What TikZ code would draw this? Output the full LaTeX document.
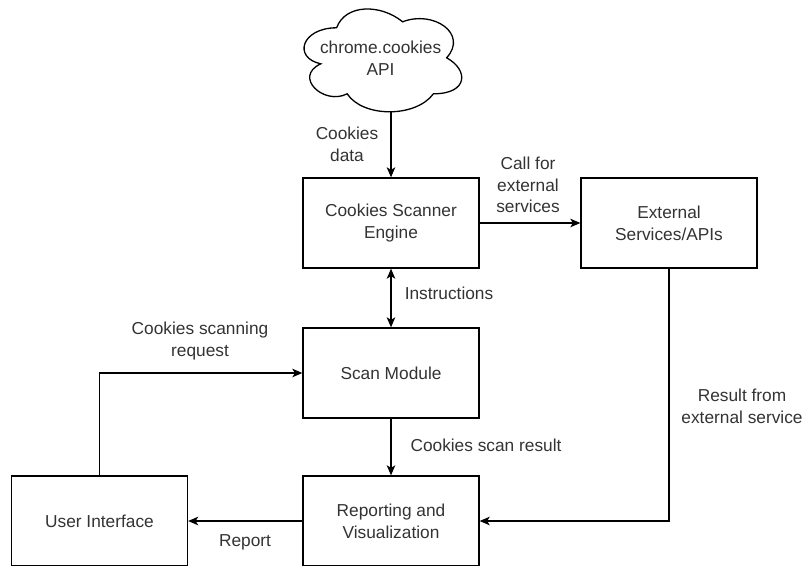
\documentclass[tikz,border=0pt]{standalone}
\usepackage{fontspec}
\setmainfont{Liberation Sans}
\usetikzlibrary{arrows.meta}
\definecolor{ink}{HTML}{333333}
\begin{document}
\begin{tikzpicture}[x=1pt,y=-1pt,
  txt/.style={font=\fontsize{17.3}{21.7}\selectfont, text=ink, align=center},
  box/.style={txt, draw=black, line width=1.3pt, minimum width=176pt,
              minimum height=90pt, inner sep=0pt},
  lbl/.style={txt, inner sep=0pt},
  tip/.tip={Stealth[length=10pt,width=8.5pt,inset=2.5pt]},
  conn/.style={line width=1.3pt, -tip}]
\useasboundingbox (0,0) rectangle (802,565);

% cloud outline for the cookies API
\begin{scope}[shift={(292.6,-2.2)}, x=176pt, y=-120pt]
  \draw[line width=1.3pt, fill=white]
    (0.25,0.25) .. controls (0.05,0.25) and (0,0.5) .. (0.16,0.55)
    .. controls (0,0.66) and (0.18,0.9) .. (0.31,0.8)
    .. controls (0.4,1) and (0.7,1) .. (0.8,0.8)
    .. controls (1,0.8) and (1,0.6) .. (0.875,0.5)
    .. controls (1,0.3) and (0.8,0.1) .. (0.625,0.2)
    .. controls (0.5,0.05) and (0.3,0.05) .. (0.25,0.25) -- cycle;
\end{scope}
\node[lbl] (api) at (380.6,58) {chrome.cookies\\API};
\coordinate (apibot) at (391,112);

% components
\node[box] (eng)  at (391,223)  {Cookies Scanner\\Engine};
\node[box] (ext)  at (669,223)  {External\\Services/APIs};
\node[box] (scan) at (391,373)  {Scan Module};
\node[box] (rep)  at (391,521)  {Reporting and\\Visualization};
\node[box] (ui)   at (99.5,521) {User Interface};

% connectors
\draw[conn] (apibot) -- (eng.north);
\draw[conn] (eng.east) -- (ext.west);
\draw[line width=1.3pt, tip-tip] (eng.south) -- (scan.north);
\draw[conn] (scan.south) -- (rep.north);
\draw[conn] (ui.north) |- (scan.west);
\draw[conn] (ext.south) |- (rep.east);
\draw[conn] (rep.west) -- (ui.east);

% connector labels
\node[lbl] (l1) at (347,144) {Cookies\\data};
\node[lbl] (l2) at (528,185) {Call for\\external\\services};
\node[lbl] (l3) at (449,293) {Instructions};
\node[lbl] (l4) at (200,341) {Cookies scanning\\request};
\node[lbl] (l5) at (486,445) {Cookies scan result};
\node[lbl] (l6) at (742,406) {Result from\\external service};
\node[lbl] (l7) at (245,542) {Report};
\end{tikzpicture}
\end{document}
